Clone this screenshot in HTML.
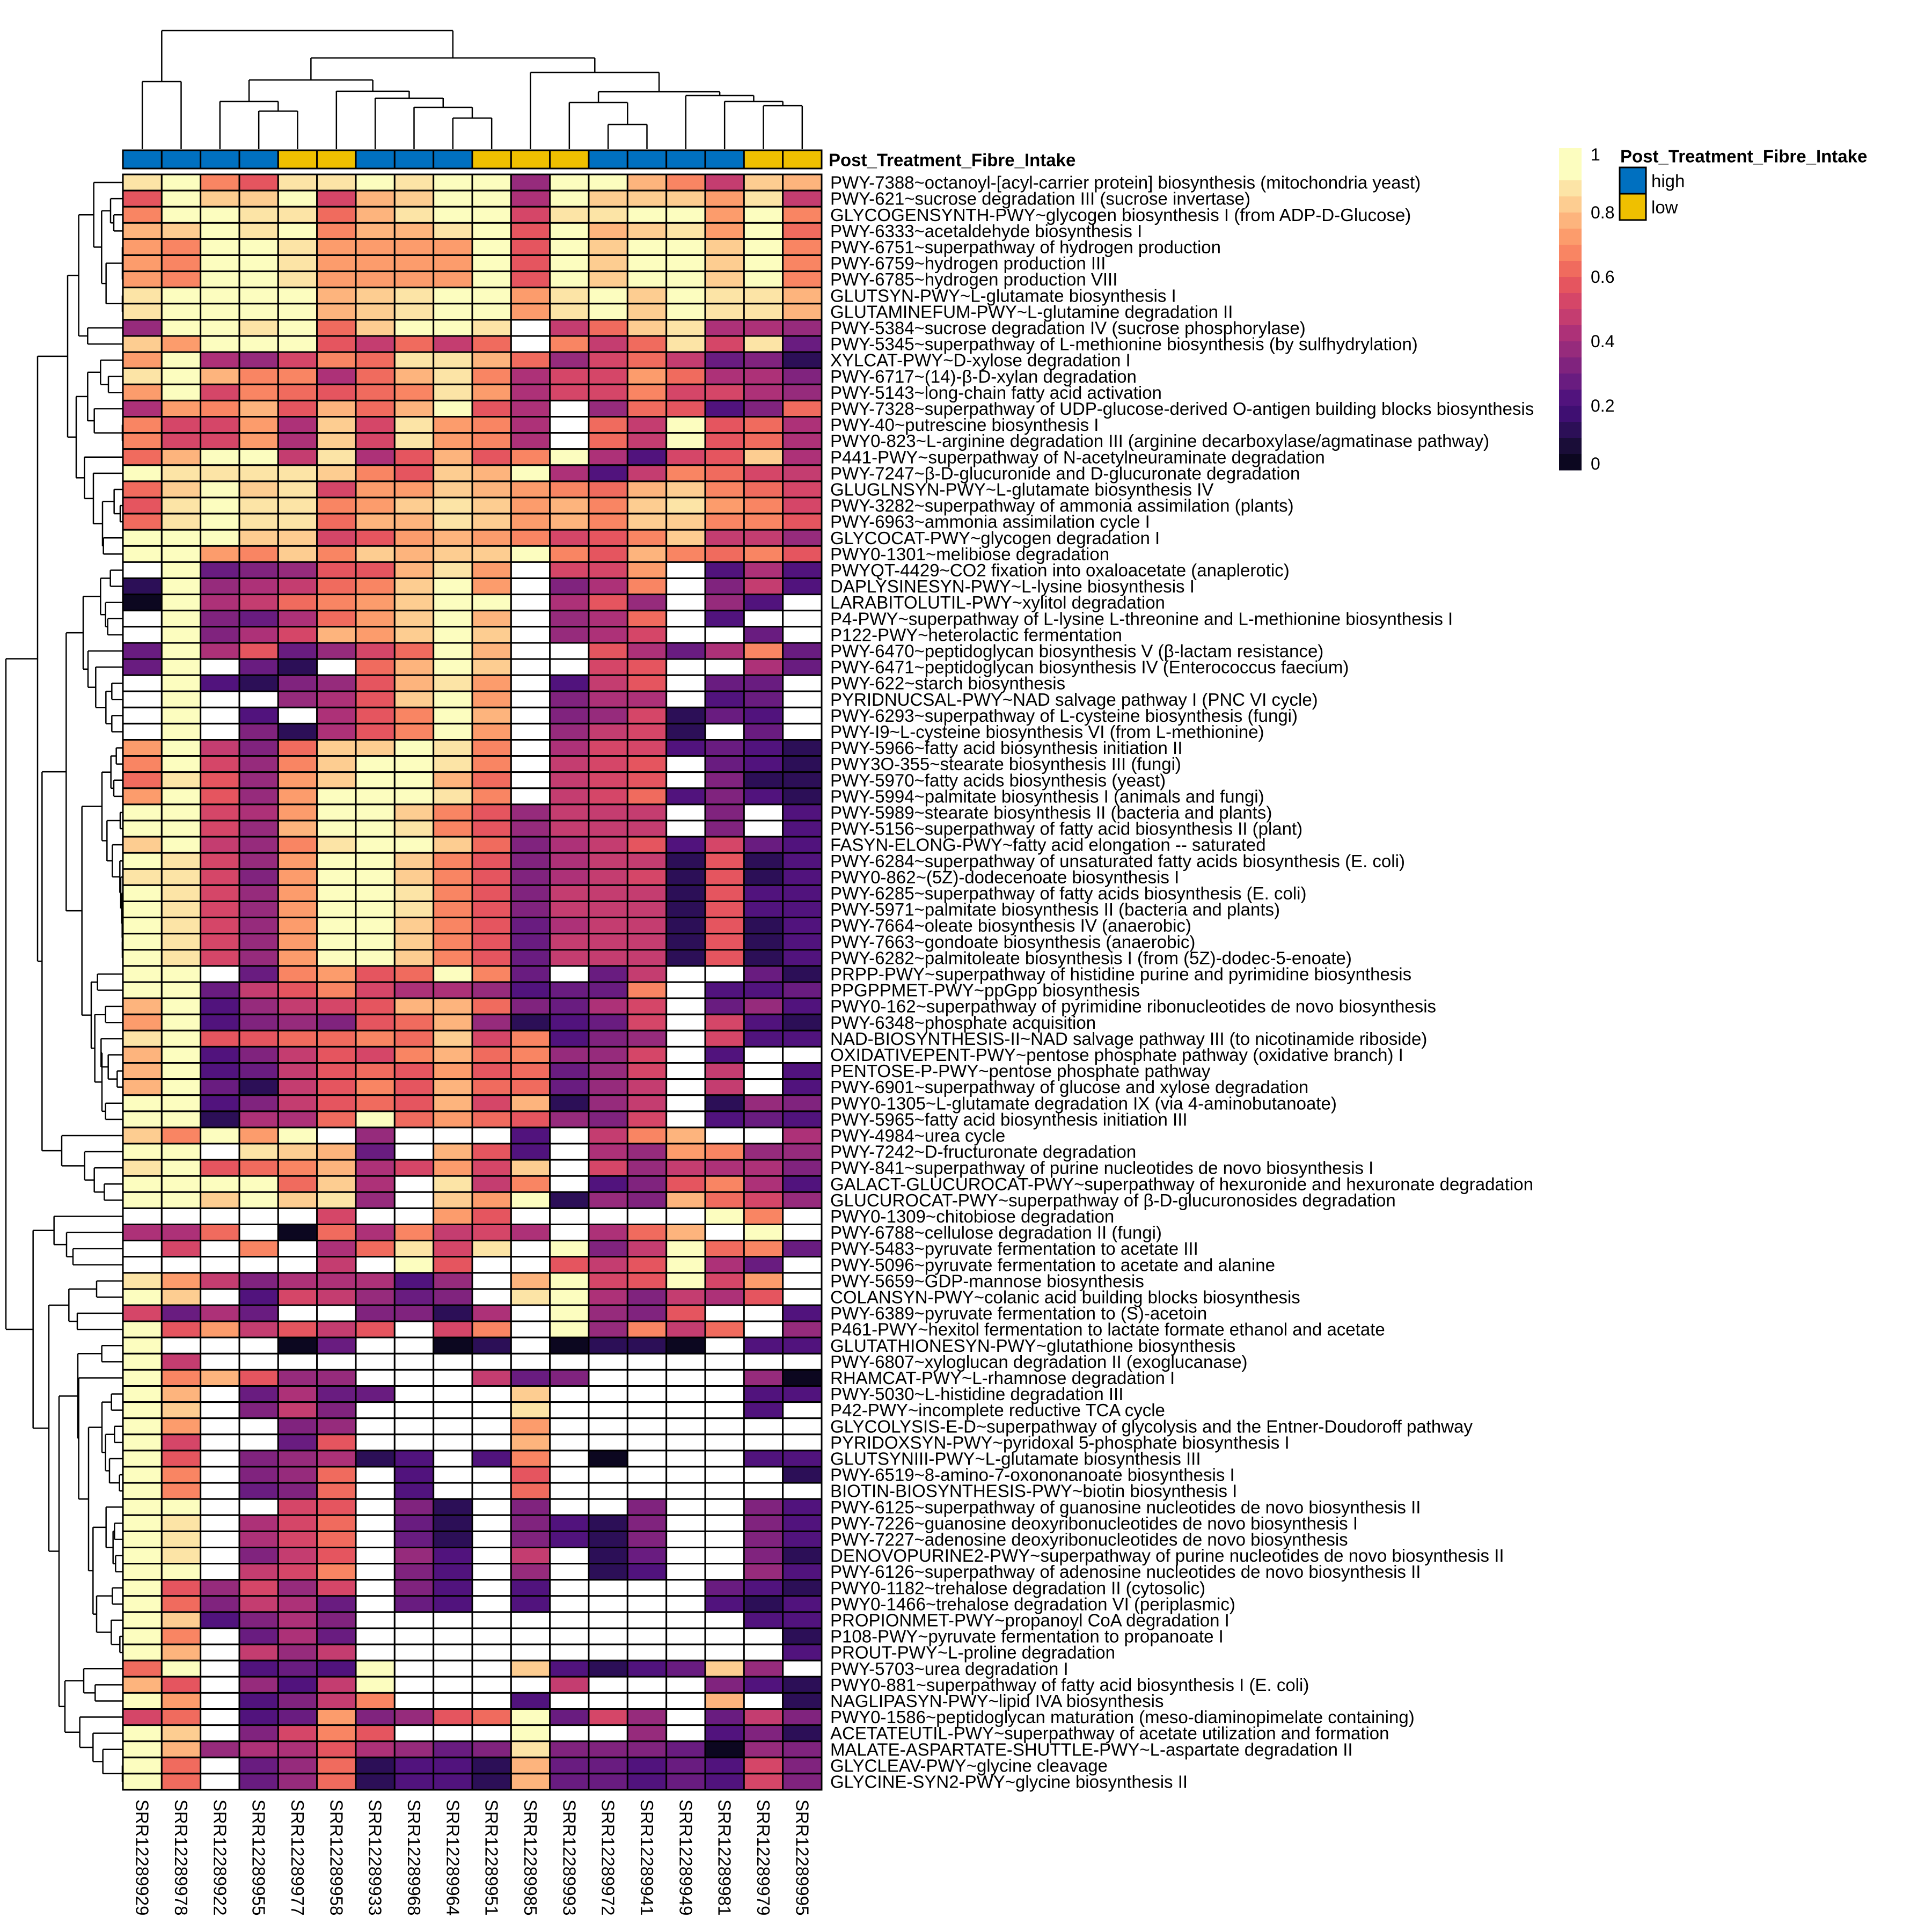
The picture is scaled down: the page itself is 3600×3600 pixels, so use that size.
<!DOCTYPE html>
<html><head><meta charset="utf-8"><style>
html,body{margin:0;padding:0;background:#fff;}
svg{display:block;font-family:"Liberation Sans",Arial,sans-serif;}
</style></head><body>
<svg id="chart" xmlns="http://www.w3.org/2000/svg" width="3600" height="3600" viewBox="0 0 3600 3600">
<rect x="0" y="0" width="3600" height="3600" fill="#fff"/>
<g id="coldend"></g>
<g id="rowdend"></g>
<g id="annot"></g>
<g id="cells"></g>
<g id="rowlabels"></g>
<g id="collabels"></g>
<g id="legend"></g>
</svg>
<script>
const columns = ["SRR12289929","SRR12289978","SRR12289922","SRR12289955","SRR12289977","SRR12289958","SRR12289933","SRR12289968","SRR12289964","SRR12289951","SRR12289985","SRR12289993","SRR12289972","SRR12289941","SRR12289949","SRR12289981","SRR12289979","SRR12289995"];
const groups = ["high","high","high","high","low","low","high","high","high","low","low","low","high","high","high","high","low","low"];
const rowNames = [
"PWY-7388~octanoyl-[acyl-carrier protein] biosynthesis (mitochondria yeast)",
"PWY-621~sucrose degradation III (sucrose invertase)",
"GLYCOGENSYNTH-PWY~glycogen biosynthesis I (from ADP-D-Glucose)",
"PWY-6333~acetaldehyde biosynthesis I",
"PWY-6751~superpathway of hydrogen production",
"PWY-6759~hydrogen production III",
"PWY-6785~hydrogen production VIII",
"GLUTSYN-PWY~L-glutamate biosynthesis I",
"GLUTAMINEFUM-PWY~L-glutamine degradation II",
"PWY-5384~sucrose degradation IV (sucrose phosphorylase)",
"PWY-5345~superpathway of L-methionine biosynthesis (by sulfhydrylation)",
"XYLCAT-PWY~D-xylose degradation I",
"PWY-6717~(14)-β-D-xylan degradation",
"PWY-5143~long-chain fatty acid activation",
"PWY-7328~superpathway of UDP-glucose-derived O-antigen building blocks biosynthesis",
"PWY-40~putrescine biosynthesis I",
"PWY0-823~L-arginine degradation III (arginine decarboxylase/agmatinase pathway)",
"P441-PWY~superpathway of N-acetylneuraminate degradation",
"PWY-7247~β-D-glucuronide and D-glucuronate degradation",
"GLUGLNSYN-PWY~L-glutamate biosynthesis IV",
"PWY-3282~superpathway of ammonia assimilation (plants)",
"PWY-6963~ammonia assimilation cycle I",
"GLYCOCAT-PWY~glycogen degradation I",
"PWY0-1301~melibiose degradation",
"PWYQT-4429~CO2 fixation into oxaloacetate (anaplerotic)",
"DAPLYSINESYN-PWY~L-lysine biosynthesis I",
"LARABITOLUTIL-PWY~xylitol degradation",
"P4-PWY~superpathway of L-lysine L-threonine and L-methionine biosynthesis I",
"P122-PWY~heterolactic fermentation",
"PWY-6470~peptidoglycan biosynthesis V (β-lactam resistance)",
"PWY-6471~peptidoglycan biosynthesis IV (Enterococcus faecium)",
"PWY-622~starch biosynthesis",
"PYRIDNUCSAL-PWY~NAD salvage pathway I (PNC VI cycle)",
"PWY-6293~superpathway of L-cysteine biosynthesis (fungi)",
"PWY-I9~L-cysteine biosynthesis VI (from L-methionine)",
"PWY-5966~fatty acid biosynthesis initiation II",
"PWY3O-355~stearate biosynthesis III (fungi)",
"PWY-5970~fatty acids biosynthesis (yeast)",
"PWY-5994~palmitate biosynthesis I (animals and fungi)",
"PWY-5989~stearate biosynthesis II (bacteria and plants)",
"PWY-5156~superpathway of fatty acid biosynthesis II (plant)",
"FASYN-ELONG-PWY~fatty acid elongation -- saturated",
"PWY-6284~superpathway of unsaturated fatty acids biosynthesis (E. coli)",
"PWY0-862~(5Z)-dodecenoate biosynthesis I",
"PWY-6285~superpathway of fatty acids biosynthesis (E. coli)",
"PWY-5971~palmitate biosynthesis II (bacteria and plants)",
"PWY-7664~oleate biosynthesis IV (anaerobic)",
"PWY-7663~gondoate biosynthesis (anaerobic)",
"PWY-6282~palmitoleate biosynthesis I (from (5Z)-dodec-5-enoate)",
"PRPP-PWY~superpathway of histidine purine and pyrimidine biosynthesis",
"PPGPPMET-PWY~ppGpp biosynthesis",
"PWY0-162~superpathway of pyrimidine ribonucleotides de novo biosynthesis",
"PWY-6348~phosphate acquisition",
"NAD-BIOSYNTHESIS-II~NAD salvage pathway III (to nicotinamide riboside)",
"OXIDATIVEPENT-PWY~pentose phosphate pathway (oxidative branch) I",
"PENTOSE-P-PWY~pentose phosphate pathway",
"PWY-6901~superpathway of glucose and xylose degradation",
"PWY0-1305~L-glutamate degradation IX (via 4-aminobutanoate)",
"PWY-5965~fatty acid biosynthesis initiation III",
"PWY-4984~urea cycle",
"PWY-7242~D-fructuronate degradation",
"PWY-841~superpathway of purine nucleotides de novo biosynthesis I",
"GALACT-GLUCUROCAT-PWY~superpathway of hexuronide and hexuronate degradation",
"GLUCUROCAT-PWY~superpathway of β-D-glucuronosides degradation",
"PWY0-1309~chitobiose degradation",
"PWY-6788~cellulose degradation II (fungi)",
"PWY-5483~pyruvate fermentation to acetate III",
"PWY-5096~pyruvate fermentation to acetate and alanine",
"PWY-5659~GDP-mannose biosynthesis",
"COLANSYN-PWY~colanic acid building blocks biosynthesis",
"PWY-6389~pyruvate fermentation to (S)-acetoin",
"P461-PWY~hexitol fermentation to lactate formate ethanol and acetate",
"GLUTATHIONESYN-PWY~glutathione biosynthesis",
"PWY-6807~xyloglucan degradation II (exoglucanase)",
"RHAMCAT-PWY~L-rhamnose degradation I",
"PWY-5030~L-histidine degradation III",
"P42-PWY~incomplete reductive TCA cycle",
"GLYCOLYSIS-E-D~superpathway of glycolysis and the Entner-Doudoroff pathway",
"PYRIDOXSYN-PWY~pyridoxal 5-phosphate biosynthesis I",
"GLUTSYNIII-PWY~L-glutamate biosynthesis III",
"PWY-6519~8-amino-7-oxononanoate biosynthesis I",
"BIOTIN-BIOSYNTHESIS-PWY~biotin biosynthesis I",
"PWY-6125~superpathway of guanosine nucleotides de novo biosynthesis II",
"PWY-7226~guanosine deoxyribonucleotides de novo biosynthesis I",
"PWY-7227~adenosine deoxyribonucleotides de novo biosynthesis",
"DENOVOPURINE2-PWY~superpathway of purine nucleotides de novo biosynthesis II",
"PWY-6126~superpathway of adenosine nucleotides de novo biosynthesis II",
"PWY0-1182~trehalose degradation II (cytosolic)",
"PWY0-1466~trehalose degradation VI (periplasmic)",
"PROPIONMET-PWY~propanoyl CoA degradation I",
"P108-PWY~pyruvate fermentation to propanoate I",
"PROUT-PWY~L-proline degradation",
"PWY-5703~urea degradation I",
"PWY0-881~superpathway of fatty acid biosynthesis I (E. coli)",
"NAGLIPASYN-PWY~lipid IVA biosynthesis",
"PWY0-1586~peptidoglycan maturation (meso-diaminopimelate containing)",
"ACETATEUTIL-PWY~superpathway of acetate utilization and formation",
"MALATE-ASPARTATE-SHUTTLE-PWY~L-aspartate degradation II",
"GLYCLEAV-PWY~glycine cleavage",
"GLYCINE-SYN2-PWY~glycine biosynthesis II"];
// values coded 0..G (0..16 -> value/16), '.' = NA
const valueRows = [
"FGB9FFGFGG5GGDB7ED","9GEEG8DEGG6GEEECF7","BGGFFADFGG8FFGGCGB","DEGFGBDDFG9GDEFCGA","CBGGFCCCCG9GEGGEGB",
"CBGGFCCCCG9GEGGEGB","CBGGFCCCCG9GEGGEGB","FGGGGDEFGGCFGEGFFD","FGGGGDEFGGCFGEGFFD","5GGFGAEGGF.7AEF665",
"ECGGG97A7A.B7AF8F3","CG658BAFFDA58A7341","FGDBB6ADFB688CA664","CG8BA9ABFC688B8865","6CBD9DADG96.5A924A",
"B88C6E8FCB6.A7G9A6","B88C6E8FCB6.A7G9A6","ADGG7F69D9BG6289E6","GFFFFEB9EDG627BA87","AEGEF8CCEDCBADEBA8",
"9FGFFBCEFECDBEFCB8","AFGFFADDFECDBEEBB9","GGGEE89CDCB89BE775","GGCBEBEDEEGB9DBAB9",".G34599DFC.88C.262",
"1G567ABEGC.46B.472","0G67ABCEGG.695.52.",".G436ACEGD.56A.2..",".G468DCEGE.568..3.","3G69358AGD..9636B3",
"3G.31.ADGE..89..63",".G21459DFC.279.33.",".G..569EGC.466.23.",".G.2.69BGD.458132.",".G.4169BGC.5781.3.",
"CG74AEEGFB.6882321","BG85BEGGFB.789.321","AF95CEGGDA.789.411","CG95CGGGFB.78A2421","GG86CGGEB95777.4.2",
"GG85DGGFB95777.4.2","EG75BFGGEA46792832","GF85CGGEB946771912","FF84CGGEB946781912","GF85CGGFB947771922",
"GF85CGGFB947771922","GF85CGGEB936771912","GF85CGGEB937771912","GF85CGGEB937771912","GG.3BC9AGB3.37..31",
"GG379B8665233B.223","DG25789DDA4368.352","CG24549AD51238.821","FG99AABAE8B245.822","DG24798BDAB558.2..",
"DG2379A9C9A358.7.2","DG3179B9DAA357.7.2","GG2479A9D8D157.154","GG166AGACA9548.232","EBGCG.5...2.7BD..6",
"GG.FED3.D92.65CB55","FG9ABD68C8E.857664","GGGGAE6.F7B.249B62","GGEGEF5.ECG154DA85",".....8..C9.....GB.",
"66A.0A6B786.6AD.G.",".8.B.6AF8F.G47GAB3",".....7.G9..979G63.","FC7466625.DG89G8C.","GE.287534.FG64769.",
"8363..4416.G549..2","G9C7979.8B.G5B7A.5","G...03..01.0110.22","G7................","GBD955...734....50",
"GD.3633...E.....22","GE.474....F.....2.","GC..45....C.......","G8..39....D.......","G9.45612.2B.0...22",
"GB.45A.2..9......1","GB.34A.2..A.......","GG..89.41.4..4..42","GF.68A.31.4214..42","GF.68A.31.4214..42",
"GF.479.52.7.13..41","GG.78B.42.5.12..52","G95858.42.2....321","GA4763.32.2....212","GE2464..........22",
"GB.363...........1","GD.757...........2","AG.232G...E2123E5.","D9.527G....7...421","GC.247B...2....D.1",
"8A.23C459AG385.374","GE.48B9...G..5.241","GD56696534F4443054","GA.35A1221D3323284","GA.35A1221D3323284"];
const legendTicks = ["1","0.8","0.6","0.4","0.2","0"];
const legendTickValues = [1,0.8,0.6,0.4,0.2,0];
const groupLevels = ["high","low"];

const NS="http://www.w3.org/2000/svg";
function mk(tag,attrs,parent){const e=document.createElementNS(NS,tag);for(const k in attrs)e.setAttribute(k,attrs[k]);parent.appendChild(e);return e;}
const X0=229,X1=1531,Y0=325,Y1=3335;
const nC=columns.length,nR=rowNames.length;
const cw=(X1-X0)/nC, rh=(Y1-Y0)/nR;
const xCol=i=>X0+cw*i, yRow=i=>Y0+rh*i;
const pal=["#0C0720","#2C0F57","#51137D","#691C80","#80237E","#962B7C","#AD3178","#C43D70","#D54668","#E5555F","#F06B5E","#F98563","#FC9C6C","#FDB47D","#FDCD91","#FCE4A6","#FCFDBF"];
function colorOf(v){if(v===null)return "#ffffff";return pal[Math.max(0,Math.min(16,Math.round(v*16)))];}
const values=valueRows.map(r=>{const a=[];for(let j=0;j<nC;j++){const ch=(r[j]||'.');a.push(ch==='.'?null:parseInt(ch,17)/16);}return a;});

const FS=33;
// cells
const cells=document.getElementById('cells');
for(let i=0;i<nR;i++){for(let j=0;j<nC;j++){
 const r=mk('rect',{x:xCol(j),y:yRow(i),width:cw,height:rh,fill:colorOf(values[i][j]),stroke:'#000','stroke-width':3},cells);
 
 
}}
// row labels
const rl=document.getElementById('rowlabels');
rowNames.forEach((n,i)=>{const t=mk('text',{x:X1+16,y:yRow(i)+rh/2,'font-size':FS,'dominant-baseline':'central'},rl);t.textContent=n;
 
 });
// column labels
const cl=document.getElementById('collabels');
columns.forEach((n,j)=>{const cx=xCol(j)+cw/2;const t=mk('text',{x:cx,y:Y1+18,'font-size':FS,'dominant-baseline':'central',transform:`rotate(90 ${cx} ${Y1+18})`},cl);t.textContent=n;
 
 });
// annotation
const an=document.getElementById('annot');
const gcol={high:"#0070C0",low:"#EFC000"};
groups.forEach((g,j)=>{const r=mk('rect',{x:xCol(j),y:280,width:cw,height:34,fill:gcol[g],stroke:'#000','stroke-width':3},an);
 
 });
const at=mk('text',{x:X1+13,y:298,'font-size':FS,'font-weight':'bold','dominant-baseline':'central'},an);at.textContent="Post_Treatment_Fibre_Intake";



// dendrograms
function drawTree(node,parent,pos,depth,horizontal){
 if(typeof node==='number'){return [pos(node-1),null];}
 const h=depth(node[0]);const ch=node.slice(1).map(c=>drawTree(c,parent,pos,depth,horizontal));
 const cs=ch.map(c=>c[0]);const mn=Math.min(...cs),mx=Math.max(...cs);
 const line=(a,b,c,d)=>{const l=mk('line',{x1:a,y1:b,x2:c,y2:d,stroke:'#000','stroke-width':2.5},parent);};
 ch.forEach(c=>{const ch2=c[1]===null?(horizontal?X0:278):c[1];
  if(horizontal)line(h,c[0],ch2,c[0]);else line(c[0],h,c[0],ch2);});
 if(horizontal)line(h,mn,h,mx);else line(mn,h,mx,h);
 return [(mn+mx)/2,h];
}
const colTree=[57,[152,1,2],[108,[149,[189,3,[207,4,5]],[170,6,[183,7,[200,8,[220,9,10]]]]],[135,11,[171,[191,12,[232,13,14]],[178,15,[189,16,[197,17,18]]]]]]];
drawTree(colTree,document.getElementById('coldend'),i=>xCol(i)+cw/2,h=>h,false);
const A=[524,1,[568,[618,2,[636,3,4]],[593,[685,5,6,7],[688,8,9]]]];
const B=[440,A,[490,10,11]];
const W=[490,[562,12,[606,13,14]],[527,15,[690,16,17]]];
const Xn=[472,18,[522,19,[573,[638,20,[672,21,22]],[578,23,24]]]];
const U=[378,B,[426,W,Xn]];
const F1=[465,[562,[617,25,26],[590,27,[602,28,29]]],[492,30,[535,31,[592,[625,32,33],[625,34,35]]]]];
const H1=[570,[620,[650,36,37],[636,38,39]],[598,[672,40,41],[628,42,[670,43,[675,44,[680,45,[683,46,[686,47,[688,48,49]]]]]]]]];
const H2=[510,[545,50,51],[530,[590,52,53],[570,[565,54,[605,55,[655,56,57]]],[590,58,59]]]];
const E=[235,[370,F1,[458,H1,H2]],[345,60,[473,61,[527,62,[583,63,64]]]]];
const C=[210,U,E];
const D1=[302,65,[372,66,[408,67,68]]];
const D2=[385,[540,69,70],[432,71,72]];
const M=[570,[623,76,77],[590,[640,78,79],[612,80,[668,81,82]]]];
const N=[520,[593,83,[632,[640,84,85],[646,86,87]]],[540,[628,88,89],[622,90,[670,91,92]]]];
const K=[435,[569,73,74],[440,75,[495,M,N]]];
const L=[363,[468,93,[532,94,95]],[446,96,[520,97,[575,98,[690,99,100]]]]];
const rowTree=[33,C,[185,D1,[273,D2,[330,K,L]]]];
drawTree(rowTree,document.getElementById('rowdend'),i=>yRow(i)+rh/2,h=>Math.min(h/3,X0-1),true);

// legend
const lg=document.getElementById('legend');
const LY0=276,LY1=876,LX=2905,LW=42;
const bandCols=["#FCFDBF","#FCFDBF","#FCE4A6","#FDCD91","#FDB47D","#FC9C6C","#F98563","#F06B5E","#E5555F","#D54668","#C43D70","#AD3178","#962B7C","#80237E","#691C80","#51137D","#3F0F72","#2C0F57","#1A0D38","#0C0720"];
const bh=(LY1-LY0)/bandCols.length;
bandCols.forEach((c,k)=>{const r=mk('rect',{x:LX,y:LY0+k*bh,width:LW,height:bh+0.5,fill:c},lg);
 
 });
legendTicks.forEach((t,k)=>{const y=LY0+(1-legendTickValues[k])*(LY1-LY0);
 const tx=mk('text',{x:2964,y:k===0?y+12:(k===legendTicks.length-1?y-12:y),'font-size':32,'dominant-baseline':'central'},lg);tx.textContent=t;
 
 });
const lt=mk('text',{x:3019,y:291,'font-size':FS,'font-weight':'bold','dominant-baseline':'central'},lg);lt.textContent="Post_Treatment_Fibre_Intake";


groupLevels.forEach((g,k)=>{const y=312+k*49;
 const r=mk('rect',{x:3018,y:y,width:49,height:49,fill:gcol[g],stroke:'#000','stroke-width':3},lg);
 
 
 const t=mk('text',{x:3077,y:y+25,'font-size':FS,'dominant-baseline':'central'},lg);t.textContent=g;
 
 });
</script>
</body></html>
